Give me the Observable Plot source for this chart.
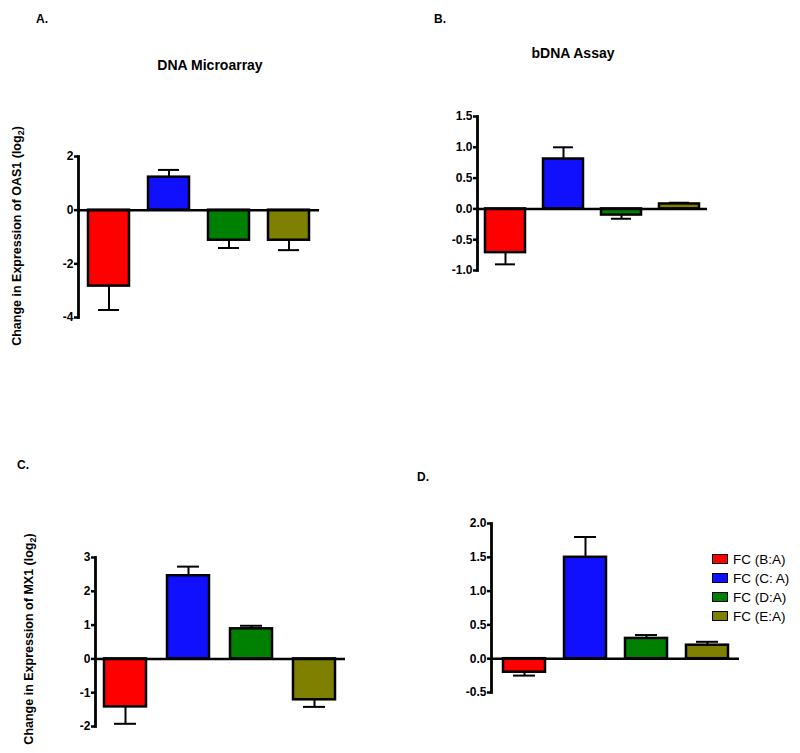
<!DOCTYPE html>
<html>
<head>
<meta charset="utf-8">
<script src="https://cdn.jsdelivr.net/npm/d3@7"></script>
<script src="https://cdn.jsdelivr.net/npm/@observablehq/plot@0.6"></script>
<style>
  html, body { margin: 0; padding: 0; background: white; }
  #root { position: relative; width: 800px; height: 753px; overflow: hidden; font-family: "Liberation Sans", Arial, sans-serif; color: black; }
  #root svg { position: absolute; left: 0; top: 0; }
  .t { position: absolute; white-space: nowrap; transform: translate(-50%, -50%); font-weight: bold; }
  .yl { position: absolute; white-space: nowrap; transform: translate(-50%, -50%) rotate(-90deg); font-weight: bold; font-size: 12.5px; }
  .leg { position: absolute; left: 712px; font-size: 13.5px; }
  .leg div { height: 19px; display: flex; align-items: center; }
  .sw { display: inline-block; width: 14px; height: 8px; border: 1.5px solid black; margin-right: 5px; }
</style>
</head>
<body>
<div id="root"></div>
<script>
// ---- data ----
const categories = ["FC (B:A)", "FC (C: A)", "FC (D:A)", "FC (E:A)"];
const colors = ["#ff0000", "#1010ff", "#008000", "#808000"];

// Panel A: OAS1, DNA Microarray
const oas1ArrayValues = [-2.83, 1.23, -1.12, -1.12];
const oas1ArrayErrEnds = [-3.72, 1.5, -1.41, -1.49];
const oas1ArrayTicks = [-4, -2, 0, 2];

// Panel B: OAS1, bDNA Assay
const oas1BdnaValues = [-0.71, 0.81, -0.10, 0.08];
const oas1BdnaErrEnds = [-0.90, 1.0, -0.16, 0.10];
const oas1BdnaTicks = [-1.0, -0.5, 0, 0.5, 1.0, 1.5];

// Panel C: MX1, DNA Microarray
const mx1ArrayValues = [-1.42, 2.46, 0.89, -1.21];
const mx1ArrayErrEnds = [-1.92, 2.73, 0.98, -1.42];
const mx1ArrayTicks = [-2, -1, 0, 1, 2, 3];

// Panel D: MX1, bDNA Assay
const mx1BdnaValues = [-0.20, 1.50, 0.30, 0.20];
const mx1BdnaErrEnds = [-0.25, 1.80, 0.35, 0.25];
const mx1BdnaTicks = [-0.5, 0, 0.5, 1.0, 1.5, 2.0];

const root = document.getElementById("root");

function panel({values, errs, ticks, fmt, ml, mr, mt, mb, pi, po}) {
  const data = categories.map((c, i) => ({c, v: values[i], e: errs[i]}));
  return Plot.plot({
    width: 800, height: 753,
    marginLeft: ml, marginRight: mr, marginTop: mt, marginBottom: mb,
    style: {background: "transparent", fontFamily: "'Liberation Sans', Arial, sans-serif", fontSize: "12px", fontWeight: "bold", color: "black", overflow: "visible"},
    x: {domain: categories, paddingInner: pi, paddingOuter: po, axis: null},
    y: {domain: [d3.min(ticks), d3.max(ticks)], axis: null},
    color: {domain: categories, range: colors},
    marks: [
      Plot.ruleX(data, {x: "c", y1: "v", y2: "e", stroke: "black", strokeWidth: 2}),
      Plot.tickY(data, {x: "c", y: "e", stroke: "black", strokeWidth: 2, inset: 10}),
      Plot.barY(data, {x: "c", y: "v", fill: "c", stroke: "black", strokeWidth: 2.5}),
      Plot.ruleY([0], {stroke: "black", strokeWidth: 2.5}),
      Plot.frame({anchor: "left", stroke: "black", strokeWidth: 2.8}),
      Plot.axisY({ticks, tickFormat: fmt, tickSize: 4, tickPadding: 1, strokeWidth: 2.5, label: null})
    ]
  });
}

const fmtInt = d => String(d);
const fmt1 = d => d.toFixed(1);

root.append(panel({values: oas1ArrayValues, errs: oas1ArrayErrEnds, ticks: oas1ArrayTicks, fmt: fmtInt,
  ml: 78, mr: 800 - 319, mt: 156, mb: 753 - 317, pi: 0.325, po: 0.165}));
root.append(panel({values: oas1BdnaValues, errs: oas1BdnaErrEnds, ticks: oas1BdnaTicks, fmt: fmt1,
  ml: 477, mr: 800 - 707, mt: 116, mb: 753 - 270, pi: 0.314, po: 0.137}));
root.append(panel({values: mx1ArrayValues, errs: mx1ArrayErrEnds, ticks: mx1ArrayTicks, fmt: fmtInt,
  ml: 95, mr: 800 - 345, mt: 557, mb: 753 - 726, pi: 0.33, po: 0.14}));
root.append(panel({values: mx1BdnaValues, errs: mx1BdnaErrEnds, ticks: mx1BdnaTicks, fmt: fmt1,
  ml: 491, mr: 800 - 739, mt: 523, mb: 753 - 692, pi: 0.315, po: 0.177}));

function text(cls, str, x, y, size) {
  const d = document.createElement("div");
  d.className = cls;
  d.innerHTML = str;
  d.style.left = x + "px";
  d.style.top = y + "px";
  if (size) d.style.fontSize = size + "px";
  root.append(d);
}
text("t", "A.", 42, 19, 12);
text("t", "B.", 440, 19, 12);
text("t", "C.", 23, 465, 12);
text("t", "D.", 423, 477, 12);
text("t", "DNA Microarray", 210, 65, 14);
text("t", "bDNA Assay", 573, 53, 14);
text("yl", "Change in Expression of OAS1 (log<sub style='font-size:9px'>2</sub>)", 18, 236);
text("yl", "Change in Expression of MX1 (log<sub style='font-size:9px'>2</sub>)", 30, 639);

const leg = document.createElement("div");
leg.className = "leg";
leg.style.top = (559 - 9.5) + "px";
categories.forEach((c, i) => {
  const row = document.createElement("div");
  row.innerHTML = `<span class="sw" style="background:${colors[i]}"></span><span>${c}</span>`;
  leg.append(row);
});
root.append(leg);
</script>
</body>
</html>
